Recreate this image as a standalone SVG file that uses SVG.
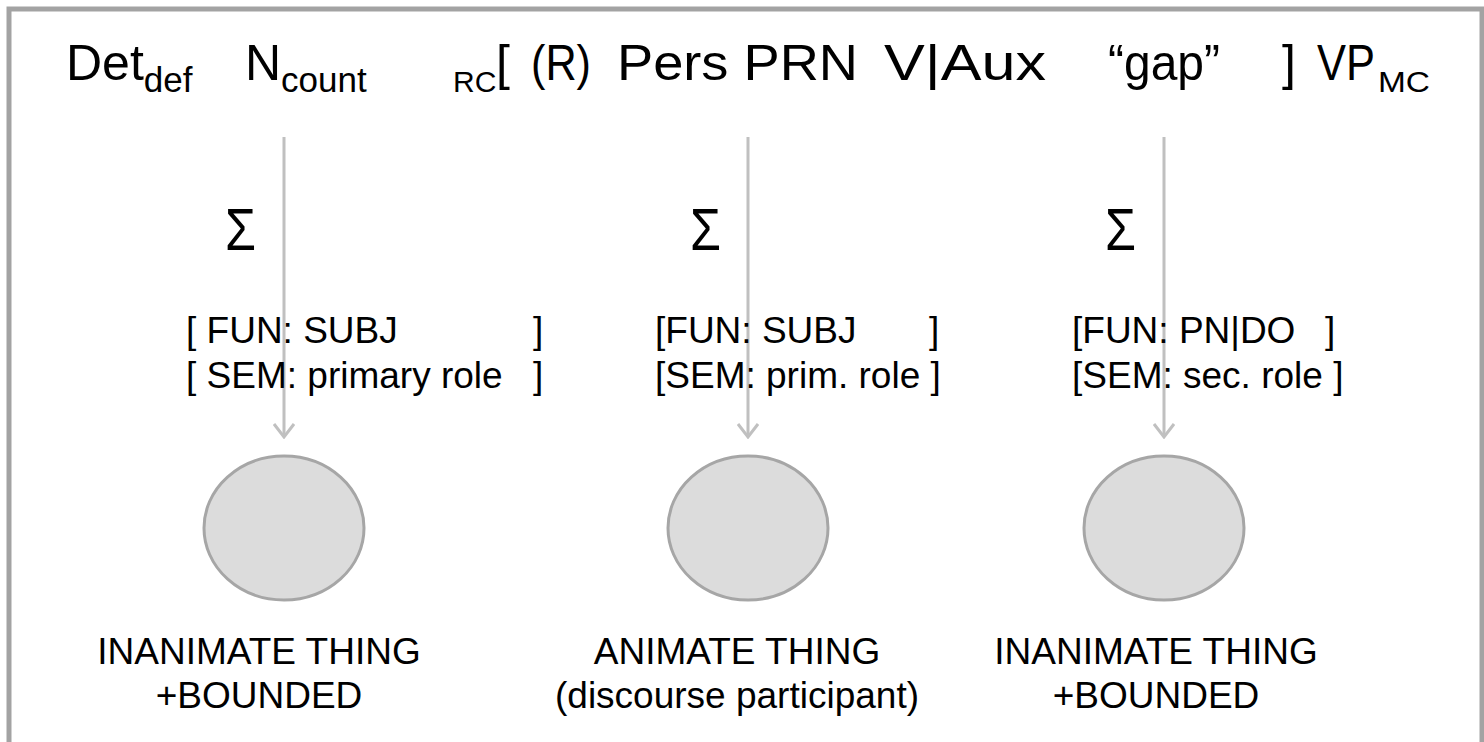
<svg xmlns="http://www.w3.org/2000/svg" width="1484" height="742" viewBox="0 0 1484 742">
<defs>
<style>
text{font-family:"Liberation Sans",Arial,sans-serif;fill:#000}
.top{font-size:50px}
.sub{font-size:35px}
.sig{font-size:60px}
.lbl{font-size:37px}
.cap{font-size:37px;text-anchor:middle}
.node{fill:#dcdcdc;stroke:#a6a6a6;stroke-width:3}
.conn{stroke:#c0c0c0;stroke-width:3;fill:none}
</style>
<marker id="arr" viewBox="0 0 16 22" refX="14" refY="11" markerWidth="16" markerHeight="22" markerUnits="userSpaceOnUse" orient="auto">
<path d="M1,1 L14,11 L1,21" fill="none" stroke="#c0c0c0" stroke-width="3"/>
</marker>
</defs>
<rect x="0" y="0" width="1484" height="742" fill="#ffffff"/>
<rect x="9" y="9" width="1473" height="740" fill="none" stroke="#a3a3a3" stroke-width="5"/>

<g id="header">
<text class="top" x="66" y="80">Det<tspan class="sub" dy="12">def</tspan></text>
<text class="top" x="245" y="80">N<tspan class="sub" dy="12">count</tspan></text>
<text class="sub" x="453" y="92" style="font-size:30px">RC</text>
<text class="top" x="496" y="80">[</text>
<text class="top" x="531" y="80" textLength="60" lengthAdjust="spacingAndGlyphs">(R)</text>
<text class="top" x="617" y="80" textLength="241" lengthAdjust="spacingAndGlyphs">Pers PRN</text>
<text class="top" x="884" y="80" textLength="162" lengthAdjust="spacingAndGlyphs">V|Aux</text>
<text class="top" x="1108" y="80" textLength="112" lengthAdjust="spacingAndGlyphs">“gap”</text>
<text class="top" x="1282" y="80">]</text>
<text class="top" x="1317" y="80" textLength="58" lengthAdjust="spacingAndGlyphs">VP</text>
<text class="sub" x="1378" y="92" style="font-size:30px" textLength="52" lengthAdjust="spacingAndGlyphs">MC</text>
</g>

<g id="connectors">
<line class="conn" x1="284" y1="137" x2="284" y2="437" marker-end="url(#arr)"/>
<line class="conn" x1="748" y1="137" x2="748" y2="437" marker-end="url(#arr)"/>
<line class="conn" x1="1164" y1="137" x2="1164" y2="437" marker-end="url(#arr)"/>
</g>

<g id="sigma1"><text class="sig" x="225" y="250" textLength="31" lengthAdjust="spacingAndGlyphs">Σ</text></g>
<g id="sigma2"><text class="sig" x="690" y="250" textLength="31" lengthAdjust="spacingAndGlyphs">Σ</text></g>
<g id="sigma3"><text class="sig" x="1105" y="250" textLength="31" lengthAdjust="spacingAndGlyphs">Σ</text></g>

<g id="features1">
<text class="lbl" x="186" y="343">[ FUN: SUBJ</text>
<text class="lbl" x="533" y="343">]</text>
<text class="lbl" x="186" y="388">[ SEM: primary role</text>
<text class="lbl" x="533" y="388">]</text>
</g>
<g id="features2">
<text class="lbl" x="655" y="343">[FUN: SUBJ</text>
<text class="lbl" x="929" y="343">]</text>
<text class="lbl" x="655" y="388">[SEM: prim. role ]</text>
</g>
<g id="features3">
<text class="lbl" x="1072" y="343">[FUN: PN|DO</text>
<text class="lbl" x="1325" y="343">]</text>
<text class="lbl" x="1072" y="388">[SEM: sec. role ]</text>
</g>

<g id="node1">
<ellipse class="node" cx="284" cy="528" rx="80" ry="72"/>
<text class="cap" x="259" y="664">INANIMATE THING</text>
<text class="cap" x="259" y="708">+BOUNDED</text>
</g>
<g id="node2">
<ellipse class="node" cx="748" cy="528" rx="80" ry="72"/>
<text class="cap" x="737" y="664">ANIMATE THING</text>
<text class="cap" x="737" y="708">(discourse participant)</text>
</g>
<g id="node3">
<ellipse class="node" cx="1164" cy="528" rx="80" ry="72"/>
<text class="cap" x="1156" y="664">INANIMATE THING</text>
<text class="cap" x="1156" y="708">+BOUNDED</text>
</g>
</svg>
